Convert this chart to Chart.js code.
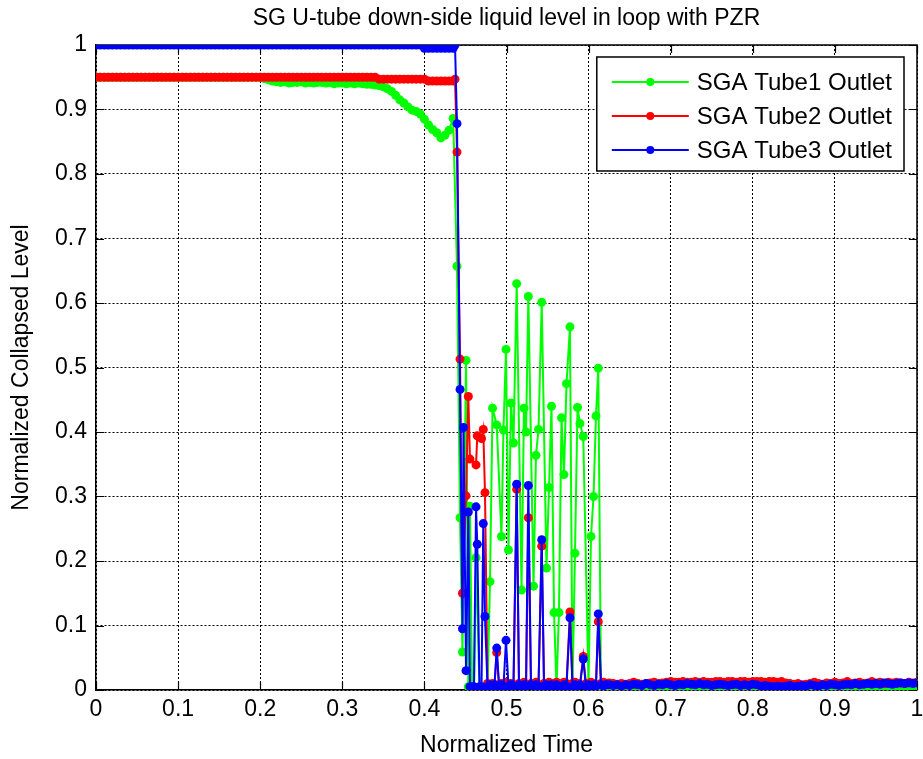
<!DOCTYPE html>
<html>
<head>
<meta charset="utf-8">
<title>SG U-tube down-side liquid level in loop with PZR</title>
<script src="https://cdn.jsdelivr.net/npm/chart.js@4.4.1/dist/chart.umd.min.js"></script>
<style>
  html, body { margin: 0; padding: 0; background: #fff; }
  #levelChart { display: block; }
</style>
</head>
<body>
<canvas id="levelChart" width="923" height="759"></canvas>
<script>
// Normalized time samples: steady part, burst part, drained part
const steadyTime = [
    0, 0.005, 0.01, 0.015, 0.02, 0.025, 0.03, 0.035, 0.04, 0.045,
    0.05, 0.055, 0.06, 0.065, 0.07, 0.075, 0.08, 0.085, 0.09, 0.095,
    0.1, 0.105, 0.11, 0.115, 0.12, 0.125, 0.13, 0.135, 0.14, 0.145,
    0.15, 0.155, 0.16, 0.165, 0.17, 0.175, 0.18, 0.185, 0.19, 0.195,
    0.2, 0.205, 0.21, 0.215, 0.22, 0.225, 0.23, 0.235, 0.24, 0.245,
    0.25, 0.255, 0.26, 0.265, 0.27, 0.275, 0.28, 0.285, 0.29, 0.295,
    0.3, 0.305, 0.31, 0.315, 0.32, 0.325, 0.33, 0.335, 0.34, 0.345,
    0.35, 0.355, 0.36, 0.365, 0.37, 0.375, 0.38, 0.385, 0.39, 0.395,
    0.4, 0.405, 0.41, 0.415, 0.42, 0.425, 0.43, 0.435
];
const burstTime = [
    0.4373, 0.4397, 0.4434, 0.4464, 0.4476, 0.4507, 0.4535, 0.4555, 0.4580, 0.4604,
    0.4629, 0.4644, 0.4671, 0.4696, 0.4717, 0.4738, 0.4769, 0.4799, 0.4830, 0.4854,
    0.4881, 0.4909, 0.4939, 0.4963, 0.4994, 0.5024, 0.5055, 0.5085, 0.5124, 0.5152,
    0.5183, 0.5213, 0.5238, 0.5266, 0.5298, 0.5329, 0.5359, 0.5390, 0.5429, 0.5457,
    0.5487, 0.5518, 0.5548, 0.5579, 0.5609, 0.5639, 0.5670, 0.5700, 0.5731, 0.5773,
    0.5804, 0.5834, 0.5865, 0.5895, 0.5935, 0.5968, 0.5999, 0.6029, 0.6060, 0.6090,
    0.6118, 0.6151, 0.6181, 0.6212
];
const drainedTime = [
    0.625, 0.63, 0.635, 0.64, 0.645, 0.65, 0.655, 0.66, 0.665, 0.67,
    0.675, 0.68, 0.685, 0.69, 0.695, 0.7, 0.705, 0.71, 0.715, 0.72,
    0.725, 0.73, 0.735, 0.74, 0.745, 0.75, 0.755, 0.76, 0.765, 0.77,
    0.775, 0.78, 0.785, 0.79, 0.795, 0.8, 0.805, 0.81, 0.815, 0.82,
    0.825, 0.83, 0.835, 0.84, 0.845, 0.85, 0.855, 0.86, 0.865, 0.87,
    0.875, 0.88, 0.885, 0.89, 0.895, 0.9, 0.905, 0.91, 0.915, 0.92,
    0.925, 0.93, 0.935, 0.94, 0.945, 0.95, 0.955, 0.96, 0.965, 0.97,
    0.975, 0.98, 0.985, 0.99, 0.995, 1
];

// Tube1 outlet level
const tube1Steady = [
    0.95, 0.95, 0.95, 0.95, 0.95, 0.95, 0.95, 0.95, 0.95, 0.95,
    0.95, 0.95, 0.95, 0.95, 0.95, 0.95, 0.95, 0.95, 0.95, 0.95,
    0.95, 0.95, 0.95, 0.95, 0.95, 0.95, 0.95, 0.95, 0.95, 0.95,
    0.95, 0.95, 0.95, 0.95, 0.95, 0.95, 0.95, 0.95, 0.95, 0.95,
    0.95, 0.948, 0.946, 0.944, 0.943, 0.942, 0.943, 0.941, 0.942, 0.942,
    0.943, 0.941, 0.942, 0.941, 0.942, 0.942, 0.941, 0.942, 0.940, 0.941,
    0.941, 0.940, 0.941, 0.940, 0.941, 0.940, 0.939, 0.939, 0.938, 0.937,
    0.935, 0.932, 0.928, 0.922, 0.915, 0.910, 0.904, 0.899, 0.897, 0.893,
    0.885, 0.876, 0.869, 0.864, 0.856, 0.860, 0.868, 0.886
];
const tube1Burst = [
    null, 0.657, 0.267, 0.059, null, 0.511, 0.005, 0.285, 0.003, 0.003,
    0.205, null, 0.003, 0.003, 0.003, 0.003, 0.003, 0.168, 0.437, null,
    0.411, null, 0.238, 0.403, 0.528, 0.217, 0.445, 0.383, 0.630, null,
    0.155, 0.437, 0.400, 0.610, null, 0.161, 0.364, 0.404, 0.601, null,
    0.189, 0.314, 0.440, 0.120, 0.003, 0.120, 0.422, 0.334, 0.475, 0.563,
    0.003, 0.212, 0.438, 0.413, 0.393, null, 0.008, 0.238, 0.300, 0.425,
    0.499, 0.003, 0.003, 0.003
];
const tube1Drained = [
    0.002, 0.003, 0.004, 0.003, 0.004, 0.005, 0.004, 0.003, 0.002, 0.003,
    0.002, 0.002, 0.003, 0.004, 0.005, 0.004, 0.005, 0.004, 0.005, 0.004,
    0.005, 0.004, 0.005, 0.004, 0.005, 0.004, 0.005, 0.004, 0.005, 0.004,
    0.005, 0.004, 0.005, 0.004, 0.005, 0.004, 0.004, 0.003, 0.004, 0.003,
    0.004, 0.003, 0.004, 0.003, 0.004, 0.005, 0.004, 0.002, 0.003, 0.002,
    0.003, 0.004, 0.005, 0.004, 0.005, 0.004, 0.005, 0.004, 0.005, 0.004,
    0.004, 0.003, 0.004, 0.003, 0.004, 0.005, 0.004, 0.005, 0.004, 0.005,
    0.004, 0.005, 0.004, 0.005, 0.004, 0.005
];

// Tube2 outlet level
const tube2Steady = [
    0.95, 0.95, 0.95, 0.95, 0.95, 0.95, 0.95, 0.95, 0.95, 0.95,
    0.95, 0.95, 0.95, 0.95, 0.95, 0.95, 0.95, 0.95, 0.95, 0.95,
    0.95, 0.95, 0.95, 0.95, 0.95, 0.95, 0.95, 0.95, 0.95, 0.95,
    0.95, 0.95, 0.95, 0.95, 0.95, 0.95, 0.95, 0.95, 0.95, 0.95,
    0.95, 0.95, 0.95, 0.95, 0.95, 0.95, 0.95, 0.95, 0.95, 0.95,
    0.95, 0.95, 0.95, 0.95, 0.95, 0.95, 0.95, 0.95, 0.95, 0.95,
    0.95, 0.95, 0.95, 0.95, 0.95, 0.95, 0.95, 0.95, 0.95, 0.947,
    0.947, 0.947, 0.947, 0.947, 0.947, 0.947, 0.947, 0.947, 0.947, 0.947,
    0.947, 0.944, 0.944, 0.944, 0.944, 0.944, 0.944, 0.944
];
const tube2Burst = [
    0.947, 0.834, 0.513, 0.150, null, 0.301, 0.455, 0.358, null, null,
    0.349, 0.394, null, 0.390, 0.404, 0.306, 0.010, 0.008, 0.010, 0.008,
    0.058, 0.008, 0.010, 0.008, 0.012, 0.008, 0.010, 0.008, 0.311, 0.010,
    0.008, 0.012, 0.008, 0.267, 0.010, 0.008, 0.012, 0.008, 0.223, 0.010,
    0.008, 0.012, 0.010, 0.008, 0.012, 0.010, 0.008, 0.012, 0.010, 0.121,
    0.010, 0.012, 0.010, 0.008, 0.052, 0.010, 0.008, 0.012, 0.010, 0.008,
    0.106, 0.010, 0.012, 0.010
];
const tube2Drained = [
    0.011, 0.010, 0.009, 0.010, 0.009, 0.010, 0.012, 0.010, 0.009, 0.010,
    0.011, 0.012, 0.010, 0.011, 0.012, 0.013, 0.012, 0.012, 0.013, 0.012,
    0.012, 0.013, 0.012, 0.013, 0.012, 0.012, 0.013, 0.013, 0.012, 0.013,
    0.013, 0.012, 0.013, 0.013, 0.012, 0.013, 0.013, 0.013, 0.012, 0.013,
    0.013, 0.012, 0.013, 0.011, 0.010, 0.009, 0.010, 0.008, 0.009, 0.010,
    0.012, 0.010, 0.009, 0.011, 0.010, 0.012, 0.010, 0.011, 0.013, 0.010,
    0.011, 0.012, 0.010, 0.011, 0.013, 0.011, 0.012, 0.010, 0.012, 0.011,
    0.012, 0.011, 0.010, 0.012, 0.011, 0.012
];

// Tube3 outlet level
const tube3Steady = [
    1, 1, 1, 1, 1, 1, 1, 1, 1, 1,
    1, 1, 1, 1, 1, 1, 1, 1, 1, 1,
    1, 1, 1, 1, 1, 1, 1, 1, 1, 1,
    1, 1, 1, 1, 1, 1, 1, 1, 1, 1,
    1, 1, 1, 1, 1, 1, 1, 1, 1, 1,
    1, 1, 1, 1, 1, 1, 1, 1, 1, 1,
    1, 1, 1, 1, 1, 1, 1, 1, 1, 1,
    1, 1, 1, 1, 1, 1, 1, 1, 1, 1,
    0.995, 0.995, 0.995, 0.995, 0.995, 0.995, 0.995, 0.995
];
const tube3Burst = [
    1, 0.878, 0.466, 0.095, 0.407, 0.030, 0.276, 0.005, 0.005, 0.005,
    0.284, 0.226, 0.005, 0.005, 0.258, 0.114, 0.005, 0.008, 0.005, 0.008,
    0.065, 0.006, 0.008, 0.005, 0.077, 0.006, 0.008, 0.006, 0.319, 0.008,
    0.005, 0.008, 0.006, 0.317, 0.008, 0.006, 0.008, 0.006, 0.233, 0.006,
    0.008, 0.005, 0.008, 0.006, 0.008, 0.006, 0.005, 0.008, 0.006, 0.112,
    0.005, 0.008, 0.006, 0.008, 0.048, 0.005, 0.008, 0.006, 0.008, 0.006,
    0.118, 0.008, 0.006, 0.008
];
const tube3Drained = [
    0.008, 0.007, 0.008, 0.006, 0.008, 0.007, 0.009, 0.008, 0.007, 0.010,
    0.008, 0.007, 0.009, 0.008, 0.010, 0.008, 0.007, 0.009, 0.008, 0.010,
    0.009, 0.008, 0.010, 0.008, 0.009, 0.007, 0.008, 0.009, 0.008, 0.007,
    0.008, 0.009, 0.007, 0.008, 0.007, 0.009, 0.008, 0.006, 0.007, 0.006,
    0.005, 0.006, 0.005, 0.006, 0.007, 0.005, 0.006, 0.007, 0.006, 0.008,
    0.007, 0.006, 0.008, 0.007, 0.009, 0.008, 0.007, 0.008, 0.009, 0.008,
    0.010, 0.008, 0.009, 0.010, 0.009, 0.010, 0.009, 0.011, 0.010, 0.009,
    0.010, 0.011, 0.010, 0.011, 0.010, 0.011
];

const seriesNames = ['SGA Tube1 Outlet', 'SGA Tube2 Outlet', 'SGA Tube3 Outlet'];
const timeTickLabels = ['0', '0.1', '0.2', '0.3', '0.4', '0.5', '0.6', '0.7', '0.8', '0.9', '1'];
const levelTickLabels = ['0', '0.1', '0.2', '0.3', '0.4', '0.5', '0.6', '0.7', '0.8', '0.9', '1'];

const FONT = "'Liberation Sans', Arial, Helvetica, sans-serif";
const time = steadyTime.concat(burstTime, drainedTime);

function toPoints(levels) {
    return levels.map((v, i) => ({ x: time[i], y: v }));
}

function lineSet(label, levels, color, order) {
    return {
        label: label,
        data: toPoints(levels),
        borderColor: color,
        backgroundColor: color,
        pointBackgroundColor: color,
        pointBorderColor: color,
        pointBorderWidth: 0,
        pointRadius: 4.5,
        borderWidth: 2,
        spanGaps: true,
        order: order
    };
}

// Title, inward ticks, top/right box and the boxed legend
const matlabAxes = {
    id: 'matlabAxes',
    beforeDatasetsDraw(chart) {
        const { ctx, chartArea: a, scales } = chart;
        ctx.save();
        ctx.strokeStyle = '#000';
        ctx.lineWidth = 1.5;
        ctx.beginPath();
        ctx.moveTo(a.left, a.top);
        ctx.lineTo(a.right, a.top);
        ctx.lineTo(a.right, a.bottom);
        ctx.stroke();
        const len = 8;
        ctx.lineWidth = 1.2;
        ctx.beginPath();
        scales.x.ticks.forEach(t => {
            const px = Math.round(scales.x.getPixelForValue(t.value)) + 0.5;
            ctx.moveTo(px, a.bottom); ctx.lineTo(px, a.bottom - len);
            ctx.moveTo(px, a.top); ctx.lineTo(px, a.top + len);
        });
        scales.y.ticks.forEach(t => {
            const py = Math.round(scales.y.getPixelForValue(t.value)) + 0.5;
            ctx.moveTo(a.left, py); ctx.lineTo(a.left + len, py);
            ctx.moveTo(a.right, py); ctx.lineTo(a.right - len, py);
        });
        ctx.stroke();
        ctx.restore();
    },
    afterDraw(chart) {
        const { ctx, chartArea: a } = chart;
        ctx.save();
        // title
        ctx.fillStyle = '#000';
        ctx.font = '23px ' + FONT;
        ctx.textAlign = 'center';
        ctx.textBaseline = 'middle';
        ctx.fillText('SG U-tube down-side liquid level in loop with PZR', (a.left + a.right) / 2, 19);

        // legend
        ctx.font = '24px ' + FONT;
        const sets = chart.data.datasets;
        const textW = Math.max(...sets.map(d => ctx.measureText(d.label).width));
        const lineLen = 77, rowH = 34;
        const boxW = 15 + lineLen + 8 + textW + 12;
        const boxH = 114;
        const right = a.right - 13;
        const left = right - boxW;
        const top = a.top + 12;
        ctx.fillStyle = '#fff';
        ctx.fillRect(left, top, boxW, boxH);
        ctx.strokeStyle = '#000';
        ctx.lineWidth = 1.5;
        ctx.strokeRect(left, top, boxW, boxH);
        sets.forEach((d, i) => {
            const cy = top + 25 + i * rowH;
            const x0 = left + 15;
            ctx.strokeStyle = d.borderColor;
            ctx.lineWidth = 2;
            ctx.beginPath();
            ctx.moveTo(x0, cy);
            ctx.lineTo(x0 + lineLen, cy);
            ctx.stroke();
            ctx.fillStyle = d.borderColor;
            ctx.beginPath();
            ctx.arc(x0 + lineLen / 2, cy, 4, 0, Math.PI * 2);
            ctx.fill();
            ctx.fillStyle = '#000';
            ctx.textAlign = 'left';
            ctx.textBaseline = 'middle';
            ctx.fillText(d.label, x0 + lineLen + 8, cy + 1);
        });
        ctx.restore();
    }
};

const tickFont = { family: FONT, size: 23 };

new Chart(document.getElementById('levelChart'), {
    type: 'line',
    data: {
        datasets: [
            lineSet(seriesNames[0], tube1Steady.concat(tube1Burst, tube1Drained), '#00ff00', 3),
            lineSet(seriesNames[1], tube2Steady.concat(tube2Burst, tube2Drained), '#ff0000', 2),
            lineSet(seriesNames[2], tube3Steady.concat(tube3Burst, tube3Drained), '#0000ff', 1)
        ]
    },
    options: {
        responsive: false,
        animation: false,
        devicePixelRatio: 1,
        layout: { padding: { left: 0, right: 6, top: 45, bottom: 0 } },
        plugins: {
            legend: { display: false },
            title: { display: false },
            tooltip: { enabled: false }
        },
        scales: {
            x: {
                type: 'linear',
                min: 0,
                max: 1,
                afterBuildTicks: s => { s.ticks = timeTickLabels.map(l => ({ value: Number(l) })); },
                afterFit: s => {
                    s.height = 69;
                    s.paddingLeft = 0;
                    s.paddingRight = 0;
                },
                ticks: {
                    callback: (v, i) => timeTickLabels[i],
                    color: '#000',
                    font: tickFont,
                    padding: 6,
                    maxRotation: 0,
                    autoSkip: false
                },
                grid: { color: '#000', lineWidth: 1, drawTicks: false },
                border: { display: true, color: '#000', width: 1.5, dash: [2, 2] },
                title: {
                    display: true,
                    text: 'Normalized Time',
                    color: '#000',
                    font: tickFont,
                    padding: { top: 0, bottom: 0 }
                }
            },
            y: {
                type: 'linear',
                min: 0,
                max: 1,
                afterBuildTicks: s => { s.ticks = levelTickLabels.map(l => ({ value: Number(l) })); },
                afterFit: s => { s.width = 96; },
                ticks: {
                    callback: (v, i) => levelTickLabels[i],
                    color: '#000',
                    font: tickFont,
                    padding: 9,
                    autoSkip: false
                },
                grid: { color: '#000', lineWidth: 1, drawTicks: false },
                border: { display: true, color: '#000', width: 1.5, dash: [2, 2] },
                title: {
                    display: true,
                    text: 'Normalized Collapsed Level',
                    color: '#000',
                    font: tickFont,
                    padding: { top: 8, bottom: 0 }
                }
            }
        }
    },
    plugins: [matlabAxes]
});
</script>
</body>
</html>
